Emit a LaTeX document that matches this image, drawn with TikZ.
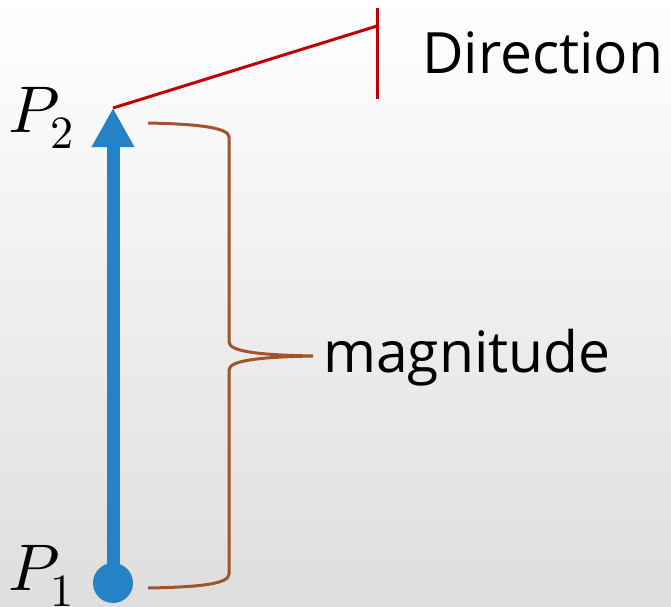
\documentclass[tikz,border=0pt]{standalone}
\usepackage{fontspec}
\usepackage{unicode-math}
\setmainfont{Open Sans}
\setmathfont{Latin Modern Math}
\usetikzlibrary{arrows.meta,positioning}
\definecolor{vecblue}{HTML}{2582C4}
\definecolor{dirred}{HTML}{C00000}
\definecolor{bracebrown}{HTML}{A5522B}

\begin{document}
\begin{tikzpicture}[x=1pt,y=-1pt,
    vector/.style={line width=13pt, vecblue, -{Triangle[width=40pt,length=39pt]}},
    wordlabel/.style={font=\fontsize{57}{60}\selectfont, inner sep=0pt, anchor=base west},
    pointlabel/.style={font=\fontsize{66}{70}\selectfont, inner sep=0pt, anchor=base west}]
        % background
        \shade[top color=white, bottom color=black!13] (0,0) rectangle (671,606);
        \useasboundingbox (0,0) rectangle (671,606);

        % vector
        \coordinate (p1) at (113,583);
        \coordinate (p2) at (113,108);
        \draw[vector] (p1) -- (p2);
        \fill[vecblue] (p1) circle (20pt);
        \node[pointlabel] (p1lab) at (8,590) {$P_1$};
        \node[pointlabel] (p2lab) at (8,132) {$P_2$};

        % direction
        \coordinate (dirend) at (377,26);
        \coordinate (ticktop) at (377,8);
        \coordinate (tickbot) at (377,99);
        \draw[dirred, line width=3pt] (p2) -- (dirend);
        \draw[dirred, line width=3pt] (ticktop) -- (tickbot);
        \node[wordlabel] (dir) at (422,73) {Direction};

        % magnitude
        \coordinate (bracetop) at (148,123);
        \coordinate (bracetip) at (313,356);
        \coordinate (bracebot) at (148,588);
        \draw[bracebrown, line width=3pt]
            (bracetop) .. controls (200,124) and (229,128) .. (229,137)
            -- (229,342) .. controls (229,352) and (262,355) .. (bracetip)
            .. controls (262,357) and (229,360) .. (229,370)
            -- (229,574) .. controls (229,584) and (200,587) .. (bracebot);
        \node[wordlabel] (mag) at (323,372) {magnitude};
    \end{tikzpicture}
\end{document}
